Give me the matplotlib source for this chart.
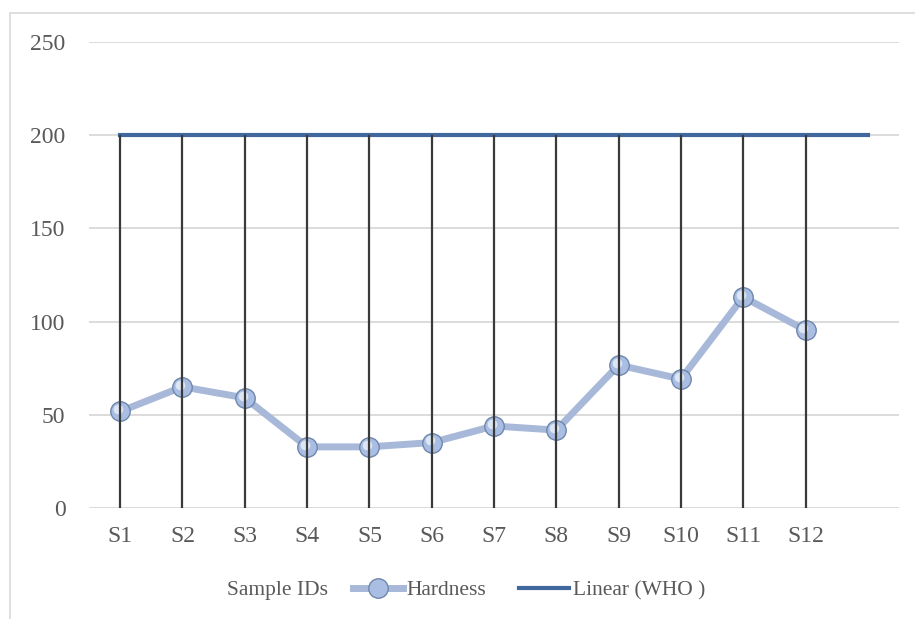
import matplotlib.pyplot as plt
from matplotlib.lines import Line2D
from matplotlib.patches import Rectangle
from matplotlib.transforms import offset_copy

# data
samples = ["S1", "S2", "S3", "S4", "S5", "S6", "S7", "S8", "S9", "S10", "S11", "S12"]
hardness = [51.8, 65.0, 59.1, 32.8, 32.8, 35.1, 44.0, 41.8, 76.7, 69.2, 113.2, 95.4]
who_limit = [200, 200, 200, 200, 200, 200, 200, 200, 200, 200, 200, 200, 200]
y_ticks = [0, 50, 100, 150, 200, 250]
legend_labels = ["Sample IDs", "Hardness", "Linear (WHO )"]

plt.rcParams['font.family'] = ['Liberation Serif', 'DejaVu Serif']
text_col = "#595959"
fs = 17
fs_leg = 15.5
hard_col = "#A7B8D8"
who_col = "#41689C"

fig = plt.figure(figsize=(9.15, 6.19), dpi=100)
ax = fig.add_axes([89 / 915, 1 - 508 / 619, 810 / 915, 466 / 619])

# outer chart border (only top/left visible in the crop)
fig.patches.append(Rectangle((10 / 915, -0.1), 1.2, 1 - 13 / 619 + 0.1,
                             transform=fig.transFigure, fill=False,
                             edgecolor="#D9D9D9", linewidth=1.2))

x = list(range(1, len(samples) + 1))
x_who = list(range(1, len(who_limit) + 1))

# Hardness series, markers made to look a bit like the shaded spheres
ax.plot(x, hardness, color=hard_col, linewidth=5, solid_joinstyle="round",
        marker="o", markersize=14, markerfacecolor="#A9BEE2",
        markeredgecolor="#6F87AD", markeredgewidth=1.0, zorder=3)
hl = offset_copy(ax.transData, fig=fig, x=-1.5, y=1.5, units="points")
ax.plot(x, hardness, linestyle="none", marker="o", markersize=7,
        markerfacecolor="#E6EEF9", markeredgewidth=0, alpha=0.85,
        transform=hl, zorder=3.5)

# WHO line
ax.plot(x_who, who_limit, color=who_col, linewidth=3, zorder=4)

# high-low lines between 0 and WHO limit
ax.vlines(x, 0, who_limit[:len(samples)], color="#3A3A3A", linewidth=1.6, zorder=5)

ax.set_xlim(0.5, len(who_limit) + 0.5)
ax.set_ylim(0, 250)
ax.set_yticks(y_ticks)
ax.set_xticks(x)
ax.set_xticklabels(samples)
ax.yaxis.grid(True, color="#D9D9D9", linewidth=1.3, zorder=0)
ax.set_axisbelow(True)
for s in ax.spines.values():
    s.set_visible(False)
ax.tick_params(length=0, labelsize=fs, colors=text_col, pad=13)
ax.tick_params(axis="y", pad=17)

# legend, laid out entry by entry like the Excel one
ly = 1 - 590 / 619
fig.text(227 / 915, ly, legend_labels[0], fontsize=fs_leg, color=text_col,
         ha="left", va="center")
h_hard = Line2D([], [], color=hard_col, linewidth=5, marker="o", markersize=14,
                markerfacecolor="#A9BEE2", markeredgecolor="#6F87AD")
h_who = Line2D([], [], color=who_col, linewidth=3)
for h, lab, x0 in [(h_hard, legend_labels[1], 353), (h_who, legend_labels[2], 519)]:
    fig.legend([h], [lab], loc="center left", bbox_to_anchor=(x0 / 915, ly),
               frameon=False, fontsize=fs_leg, labelcolor=text_col,
               handlelength=2.3, handletextpad=0.2, borderpad=0,
               borderaxespad=0)

fig.savefig("out.png", dpi=100)
